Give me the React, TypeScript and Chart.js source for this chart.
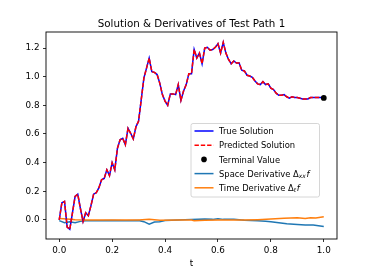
import React, { useEffect, useRef } from "react";
import { Chart, registerables } from "chart.js";

Chart.register(...registerables);

const tValues = [
  0.0, 0.01, 0.02, 0.03, 0.04, 0.05, 0.06, 0.07, 0.08, 0.09,
  0.1, 0.11, 0.12, 0.13, 0.14, 0.15, 0.16, 0.17, 0.18, 0.19,
  0.2, 0.21, 0.22, 0.23, 0.24, 0.25, 0.26, 0.27, 0.28, 0.29,
  0.3, 0.31, 0.32, 0.33, 0.34, 0.35, 0.36, 0.37, 0.38, 0.39,
  0.4, 0.41, 0.42, 0.43, 0.44, 0.45, 0.46, 0.47, 0.48, 0.49,
  0.5, 0.51, 0.52, 0.53, 0.54, 0.55, 0.56, 0.57, 0.58, 0.59,
  0.6, 0.61, 0.62, 0.63, 0.64, 0.65, 0.66, 0.67, 0.68, 0.69,
  0.7, 0.71, 0.72, 0.73, 0.74, 0.75, 0.76, 0.77, 0.78, 0.79,
  0.8, 0.81, 0.82, 0.83, 0.84, 0.85, 0.86, 0.87, 0.88, 0.89,
  0.9, 0.91, 0.92, 0.93, 0.94, 0.95, 0.96, 0.97, 0.98, 0.99,
  1.0,
];

const trueSolution = [
  0.0, 0.12, 0.13, -0.05, -0.065, 0.05, 0.165, 0.18, 0.08, -0.01,
  0.05, 0.03, 0.1, 0.18, 0.19, 0.225, 0.28, 0.29, 0.35, 0.31,
  0.4, 0.35, 0.5, 0.56, 0.57, 0.525, 0.64, 0.605, 0.565, 0.65,
  0.69, 0.84, 0.99, 1.06, 1.13, 1.035, 1.03, 1.015, 0.955, 0.875,
  0.83, 0.8, 0.88, 0.88, 0.875, 0.945, 0.835, 0.9, 0.945, 1.02,
  1.02, 1.19, 1.13, 1.165, 1.09, 1.2, 1.205, 1.185, 1.19, 1.205,
  1.23, 1.165, 1.24, 1.165, 1.12, 1.09, 1.11, 1.095, 1.095, 1.045,
  1.04, 1.01, 1.005, 0.995, 0.97, 0.95, 0.945, 0.965, 0.945, 0.95,
  0.92, 0.91, 0.885, 0.87, 0.87, 0.875, 0.86, 0.85, 0.86, 0.855,
  0.855, 0.85, 0.845, 0.845, 0.845, 0.855, 0.855, 0.855, 0.855, 0.855,
  0.852,
];

const predictedSolution = [
  0.0, 0.12, 0.13, -0.05, -0.065, 0.05, 0.165, 0.18, 0.08, -0.01,
  0.05, 0.03, 0.1, 0.18, 0.19, 0.225, 0.28, 0.29, 0.35, 0.31,
  0.4, 0.35, 0.5, 0.56, 0.57, 0.525, 0.64, 0.605, 0.565, 0.65,
  0.69, 0.84, 0.99, 1.06, 1.13, 1.035, 1.03, 1.015, 0.955, 0.875,
  0.83, 0.8, 0.88, 0.88, 0.875, 0.945, 0.835, 0.9, 0.945, 1.02,
  1.02, 1.19, 1.13, 1.165, 1.09, 1.2, 1.205, 1.185, 1.19, 1.205,
  1.23, 1.165, 1.24, 1.165, 1.12, 1.09, 1.11, 1.095, 1.095, 1.045,
  1.04, 1.01, 1.005, 0.995, 0.97, 0.95, 0.945, 0.965, 0.945, 0.95,
  0.92, 0.91, 0.885, 0.87, 0.87, 0.875, 0.86, 0.85, 0.86, 0.855,
  0.855, 0.85, 0.845, 0.845, 0.845, 0.855, 0.855, 0.855, 0.855, 0.855,
  0.852,
];

const terminalT = [1.0];
const terminalValue = [0.852];

const spaceT = [
  0.0, 0.02, 0.04, 0.06, 0.08, 0.1, 0.15, 0.2, 0.25, 0.3, 0.32, 0.34,
  0.36, 0.38, 0.4, 0.45, 0.5, 0.55, 0.58, 0.6, 0.62, 0.66, 0.7, 0.75,
  0.78, 0.8, 0.83, 0.86, 0.9, 0.93, 0.96, 1.0,
];
const spaceDerivative = [
  -0.005, -0.02, -0.012, -0.02, -0.01, -0.005, -0.005, -0.003, -0.006,
  -0.004, -0.012, -0.03, -0.015, -0.012, -0.004, 0.0, 0.004, 0.006, 0.004,
  0.008, 0.004, 0.005, -0.002, -0.006, -0.009, -0.013, -0.02, -0.027,
  -0.031, -0.035, -0.036, -0.045,
];

const timeT = [
  0.0, 0.03, 0.06, 0.1, 0.2, 0.3, 0.34, 0.38, 0.45, 0.5, 0.51, 0.55, 0.6,
  0.7, 0.75, 0.8, 0.85, 0.9, 0.93, 0.95, 0.97, 1.0,
];
const timeDerivative = [
  0.01, 0.006, 0.002, 0.0, 0.0, 0.0, 0.004, -0.002, 0.0, 0.0, -0.006, -0.002,
  0.0, -0.001, 0.002, 0.006, 0.012, 0.015, 0.01, 0.016, 0.013, 0.023,
];

const xTickValues = [0.0, 0.2, 0.4, 0.6, 0.8, 1.0];
const yTickValues = [0.0, 0.2, 0.4, 0.6, 0.8, 1.0, 1.2];

const titleText = "Solution & Derivatives of Test Path 1";
const xLabel = "t";

const FONT = "'DejaVu Sans', sans-serif";
const C_TRUE = "#0000ff";
const C_PRED = "#ff0000";
const C_SPACE = "#1f77b4";
const C_TIME = "#ff7f0e";
const LW = 1.5;

const zip = (xs: number[], ys: number[]) => xs.map((x, i) => ({ x, y: ys[i] }));

const decorPlugin = {
  id: "decor",
  afterDraw(chart: any) {
    const { ctx, chartArea } = chart;
    const { left, right, top, bottom } = chartArea;
    ctx.save();
    ctx.strokeStyle = "#000";
    ctx.lineWidth = 0.9;
    ctx.strokeRect(left, top, right - left, bottom - top);
    ctx.fillStyle = "#000";
    ctx.textAlign = "center";
    ctx.textBaseline = "alphabetic";
    ctx.font = `10.3px ${FONT}`;
    ctx.fillText(titleText, (left + right) / 2, 27);
    ctx.font = `8.8px ${FONT}`;
    ctx.fillText(xLabel, (left + right) / 2, 265.5);

    const bx = 191, by = 123.5, bw = 128.5, bh = 73.5, r = 2;
    ctx.beginPath();
    ctx.moveTo(bx + r, by);
    ctx.lineTo(bx + bw - r, by);
    ctx.quadraticCurveTo(bx + bw, by, bx + bw, by + r);
    ctx.lineTo(bx + bw, by + bh - r);
    ctx.quadraticCurveTo(bx + bw, by + bh, bx + bw - r, by + bh);
    ctx.lineTo(bx + r, by + bh);
    ctx.quadraticCurveTo(bx, by + bh, bx, by + bh - r);
    ctx.lineTo(bx, by + r);
    ctx.quadraticCurveTo(bx, by, bx + r, by);
    ctx.closePath();
    ctx.fillStyle = "rgba(255,255,255,0.8)";
    ctx.fill();
    ctx.strokeStyle = "#cccccc";
    ctx.lineWidth = 0.8;
    ctx.stroke();

    const rows = [131, 145.2, 159.4, 173.6, 187.8];
    const hx0 = 194.5, hx1 = 213.5, tx = 219;
    const drawHandle = (y: number, color: string, dash: number[]) => {
      ctx.beginPath();
      ctx.setLineDash(dash);
      ctx.strokeStyle = color;
      ctx.lineWidth = LW;
      ctx.moveTo(hx0, y);
      ctx.lineTo(hx1, y);
      ctx.stroke();
      ctx.setLineDash([]);
    };
    drawHandle(rows[0], C_TRUE, []);
    drawHandle(rows[1], C_PRED, [4.4, 1.9]);
    ctx.beginPath();
    ctx.fillStyle = "#000";
    ctx.arc((hx0 + hx1) / 2, rows[2], 2.8, 0, Math.PI * 2);
    ctx.fill();
    drawHandle(rows[3], C_SPACE, []);
    drawHandle(rows[4], C_TIME, []);

    ctx.fillStyle = "#000";
    ctx.textAlign = "left";
    ctx.textBaseline = "alphabetic";
    const fs = 8.4;
    const base = (y: number) => y + 3.1;
    ctx.font = `${fs}px ${FONT}`;
    ctx.fillText("True Solution", tx, base(rows[0]));
    ctx.fillText("Predicted Solution", tx, base(rows[1]));
    ctx.fillText("Terminal Value", tx, base(rows[2]));

    const drawMath = (prefix: string, sub: string, y: number) => {
      let x = tx;
      ctx.font = `${fs}px ${FONT}`;
      ctx.fillText(prefix, x, base(y));
      x += ctx.measureText(prefix).width;
      ctx.fillText("\u0394", x, base(y));
      x += ctx.measureText("\u0394").width;
      ctx.font = `italic ${fs * 0.7}px ${FONT}`;
      ctx.fillText(sub, x, base(y) + 1.3);
      x += ctx.measureText(sub).width + 0.8;
      ctx.font = `italic ${fs}px ${FONT}`;
      ctx.fillText("f", x, base(y));
    };
    drawMath("Space Derivative ", "xx", rows[3]);
    drawMath("Time Derivative ", "t", rows[4]);
    ctx.restore();
  },
};

export default function App() {
  const ref = useRef<HTMLCanvasElement | null>(null);
  useEffect(() => {
    document.body.style.margin = "0";
    if (!ref.current) return;
    const chart = new Chart(ref.current, {
      type: "line",
      data: {
        datasets: [
          {
            label: "Predicted Solution",
            data: zip(tValues, predictedSolution),
            borderColor: C_PRED,
            borderWidth: LW,
            borderDash: [4.4, 1.9],
            pointRadius: 0,
            tension: 0,
            order: 1,
          },
          {
            label: "True Solution",
            data: zip(tValues, trueSolution),
            borderColor: C_TRUE,
            borderWidth: LW,
            pointRadius: 0,
            tension: 0,
            order: 2,
          },
          {
            label: "Time Derivative",
            data: zip(timeT, timeDerivative),
            borderColor: C_TIME,
            borderWidth: LW,
            pointRadius: 0,
            tension: 0,
            order: 3,
          },
          {
            label: "Space Derivative",
            data: zip(spaceT, spaceDerivative),
            borderColor: C_SPACE,
            borderWidth: LW,
            pointRadius: 0,
            tension: 0,
            order: 4,
          },
          {
            label: "Terminal Value",
            data: zip(terminalT, terminalValue),
            borderColor: "#000",
            backgroundColor: "#000",
            showLine: false,
            pointRadius: 2.9,
            pointBorderWidth: 0,
            order: 0,
          },
        ],
      },
      options: {
        animation: false,
        responsive: false,
        devicePixelRatio: 1,
        layout: { padding: { top: 32, right: 37, left: 0, bottom: 0 } },
        plugins: {
          legend: { display: false },
          title: { display: false },
          tooltip: { enabled: false },
        },
        scales: {
          x: {
            type: "linear",
            min: -0.05,
            max: 1.05,
            afterBuildTicks: (scale: any) => {
              scale.ticks = xTickValues.map((v) => ({ value: v }));
            },
            afterFit: (scale: any) => {
              scale.height = 34;
            },
            ticks: {
              autoSkip: false,
              maxRotation: 0,
              padding: 3,
              color: "#000",
              font: { family: FONT, size: 8.8 },
              callback: (v: any) => Number(v).toFixed(1),
            },
            grid: {
              drawOnChartArea: false,
              drawTicks: true,
              tickLength: 3,
              color: "#000",
              lineWidth: 0.8,
            },
            border: { display: false },
          },
          y: {
            type: "linear",
            min: -0.133,
            max: 1.312,
            afterBuildTicks: (scale: any) => {
              scale.ticks = yTickValues.map((v) => ({ value: v }));
            },
            afterFit: (scale: any) => {
              scale.width = 46;
            },
            ticks: {
              autoSkip: false,
              padding: 3.5,
              color: "#000",
              font: { family: FONT, size: 8.8 },
              callback: (v: any) => Number(v).toFixed(1),
            },
            grid: {
              drawOnChartArea: false,
              drawTicks: true,
              tickLength: 3,
              color: "#000",
              lineWidth: 0.8,
            },
            border: { display: false },
          },
        },
      },
      plugins: [decorPlugin],
    } as any);
    return () => chart.destroy();
  }, []);
  return (
    <div style={{ position: "absolute", left: 0, top: 0, width: 374, height: 273, background: "#fff" }}>
      <canvas ref={ref} width={374} height={273} style={{ width: 374, height: 273, display: "block" }} />
    </div>
  );
}
